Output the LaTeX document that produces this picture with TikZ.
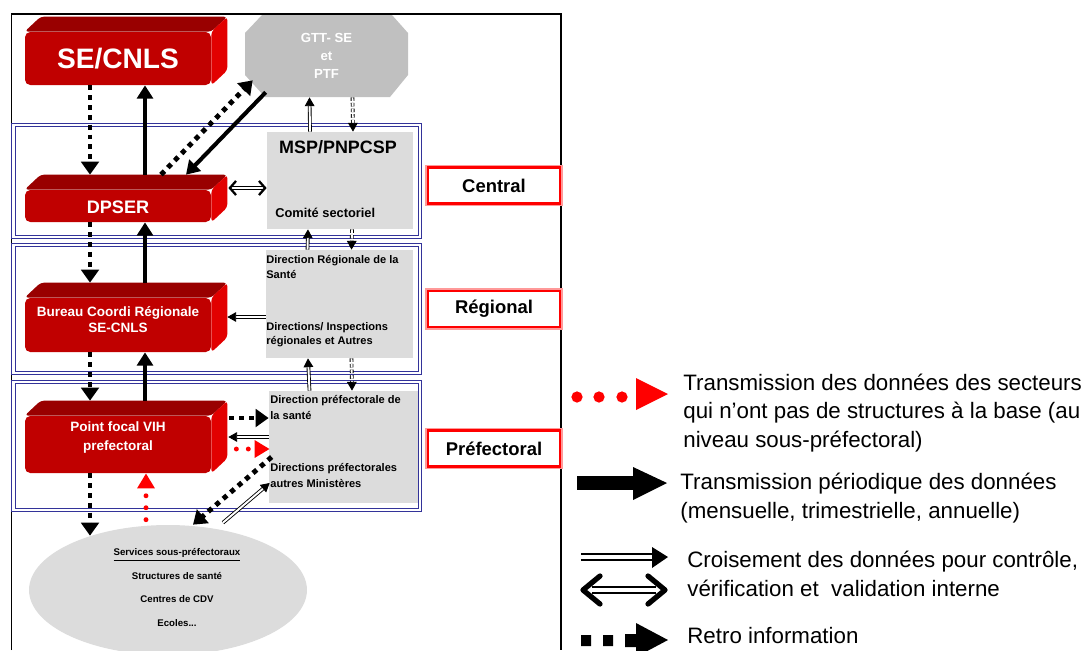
\documentclass[tikz,border=0pt]{standalone}
\usepackage{fontspec}
\setmainfont{Liberation Sans}
\usetikzlibrary{arrows.meta,shapes.geometric}

\definecolor{redfront}{RGB}{192,0,0}
\definecolor{redtop}{RGB}{153,0,0}
\definecolor{redside}{RGB}{226,0,0}
\definecolor{boxgray}{RGB}{220,220,220}
\definecolor{gttgray}{RGB}{192,192,192}
\definecolor{bandblue}{RGB}{51,51,153}

\tikzset{
  block/.style={fill=redfront, inner sep=0pt, rounded corners=3pt},
  blocktxt/.style={text=white, align=center, inner sep=0pt},
  gbox/.style 2 args={fill=boxgray, inner sep=0pt, minimum width={#1*0.02cm}, minimum height={#2*0.02cm}},
  boxtxt/.style={anchor=west, align=left, inner sep=0pt, font=\bfseries\fontsize{6.3}{8.6}\selectfont},
  band/.style={draw=bandblue, double=white, double distance=1.6pt, line width=0.5pt},
  lvl/.style={draw=red, line width=1.6pt, preaction={draw=red!40, line width=3pt}, fill=white,
    minimum width=2.64cm, minimum height=0.72cm, inner sep=0pt, font=\bfseries\fontsize{10.5}{12}\selectfont},
  retro/.style={line width=2.8pt, dash pattern=on 2.8pt off 2.8pt, -{Triangle[length=7.4pt,width=10pt]}},
  trans/.style={line width=2.3pt, -{Triangle[length=7.5pt,width=9pt]}},
  cross/.style={double, double distance=1.1pt, line width=0.5pt, -{Triangle[length=5pt,width=5.5pt]}},
  crossdash/.style={cross, dash pattern=on 2pt off 1.2pt},
  crossboth/.style={double, double distance=1.1pt, line width=0.5pt,
    {Straight Barb[length=3.5pt,width=8pt,line width=1.3pt]}-{Straight Barb[length=3.5pt,width=8pt,line width=1.3pt]}},
  redinfo/.style={red, line width=2.8pt, dash pattern=on 0pt off 6.8pt, line cap=round, -{Triangle[length=8.5pt,width=9.5pt]}},
  legtxt/.style={anchor=west, align=left, inner sep=0pt, font=\fontsize{12.7}{16.4}\selectfont},
}

% name, centre, width, height (px), font size, text, text shift
\newcommand{\redblock}[7]{%
  \node[block, minimum width={#3*0.02cm}, minimum height={#4*0.02cm}] (#1) at #2 {};
  \fill[redtop, rounded corners=2pt] (#1.north west) -- ++(16,-15) -- ([shift={(16,-15)}]#1.north east) -- (#1.north east) -- cycle;
  \fill[redside, rounded corners=2pt] (#1.north east) -- ++(16,-15) -- ([shift={(16,-15)}]#1.south east) -- (#1.south east) -- cycle;
  \coordinate (#1b) at ([shift={(0,-15)}]#1.north);
  \node[blocktxt, font={\bfseries#5}] (#1txt) at ([shift={(0,#7)}]#1) {#6};
}

\begin{document}
\begin{tikzpicture}[x=0.02cm, y=-0.02cm]
  \useasboundingbox (0,0) rectangle (1088,650);

  % frame and levels
  \draw[line width=1.1pt] (11.5,650) -- (11.5,14) -- (561,14) -- (561,650);
  \foreach \ya/\yb in {125/237, 245/373, 382/510}
    \draw[band] (13.5,\ya) rectangle (420,\yb);

  % GTT
  \fill[gttgray] (245,33) -- (262,15) -- (392,15) -- (408,33) -- (408,75) -- (390,97) -- (265,97) -- (245,75) -- cycle;
  \node[minimum width=3.26cm, minimum height=1.64cm, inner sep=0pt, text=white, align=center,
    font=\bfseries\fontsize{7.5}{10.2}\selectfont] (gtt) at (326.5,56) {GTT- SE\\et\\PTF};

  % red blocks
  \redblock{secnls}{(118,58.5)}{186}{53}{\fontsize{16}{18}\selectfont}{SE/CNLS}{0}
  \redblock{dpser}{(118,206)}{186}{32}{\fontsize{10.3}{12}\selectfont}{DPSER}{1}
  \redblock{bureau}{(118,325)}{186}{54}{\fontsize{7.7}{9.2}\selectfont}{Bureau Coordi Régionale\\SE-CNLS}{-5}
  \redblock{focal}{(118,444.5)}{186}{57}{\fontsize{7.7}{10.6}\selectfont}{Point focal VIH\\prefectoral}{-7}

  % grey boxes
  \node[gbox={146}{97}] (msp) at (340,180.5) {};
  \node[font=\bfseries\fontsize{10.2}{12}\selectfont, inner sep=0pt] (msptitle) at (338,147) {MSP/PNPCSP};
  \node[boxtxt, font=\bfseries\fontsize{7.3}{9}\selectfont] (comite) at (275,213) {Comité sectoriel};

  \node[gbox={147}{108}] (regsante) at (339.5,304) {};
  \node[boxtxt, font=\bfseries\fontsize{6.3}{9}\selectfont] (regtxta) at (266,267) {Direction Régionale de la\\Santé};
  \node[boxtxt, font=\bfseries\fontsize{6.3}{8}\selectfont] (regtxtb) at (266,335) {Directions/ Inspections\\régionales et Autres};

  \node[gbox={149}{112}] (prefsante) at (343.5,447) {};
  \node[boxtxt] (preftxta) at (270,407.5) {Direction préfectorale de\\la santé};
  \node[boxtxt] (preftxtb) at (270,475.5) {Directions préfectorales\\autres Ministères};

  \node[ellipse, fill=boxgray, minimum width=5.56cm, minimum height=2.6cm, inner sep=0pt] (services) at (168,590) {};
  \node[align=center, inner sep=0pt, font=\bfseries\fontsize{5.5}{13.4}\selectfont] (servtxt) at (177,587.5)
    {\underline{Services sous-préfectoraux}\\Structures de santé\\Centres de CDV\\Ecoles...};

  % level labels
  \node[lvl] (lvlcentral) at (494,185.5) {Central};
  \node[lvl] (lvlregional) at (494,309) {Régional};
  \node[lvl] (lvlpref) at (494,448.5) {Préfectoral};

  % central
  \draw[retro] ([shift={(-28,0)}]secnls.south) -- ([shift={(-28,0)}]dpserb);
  \draw[trans] ([shift={(27,0)}]dpserb) -- ([shift={(27,0)}]secnls.south);
  \draw[retro] ([shift={(43,0)}]dpserb) -- ([shift={(8,-17)}]gtt.south west);
  \draw[trans] ([shift={(21,-5)}]gtt.south west) -- ([shift={(68,0)}]dpserb);
  \draw[cross] ([shift={(-30,0)}]msp.north) -- ([shift={(-17,0)}]gtt.south);
  \draw[crossdash] ([shift={(26,0)}]gtt.south) -- ([shift={(13,0)}]msp.north);
  \draw[crossboth] ([shift={(17,-18)}]dpser.east) -- ([shift={(0,7.5)}]msp.west);

  % regional
  \draw[retro] ([shift={(-28,0)}]dpser.south) -- ([shift={(-28,0)}]bureaub);
  \draw[trans] ([shift={(27,0)}]bureaub) -- ([shift={(27,0)}]dpser.south);
  \draw[cross] ([shift={(-32,0)}]regsante.north) -- ([shift={(-32,0)}]msp.south);
  \draw[crossdash] ([shift={(12,0)}]msp.south) -- ([shift={(12,0)}]regsante.north);
  \draw[cross] ([shift={(0,13)}]regsante.west) -- ([shift={(16,-8)}]bureau.east);

  % prefectoral
  \draw[retro] ([shift={(-28,0)}]bureau.south) -- ([shift={(-28,0)}]focalb);
  \draw[trans] ([shift={(27,0)}]focalb) -- ([shift={(27,0)}]bureau.south);
  \draw[cross] ([shift={(-34,0)}]prefsante.north) -- ([shift={(-31.5,0)}]regsante.south);
  \draw[crossdash] ([shift={(12,0)}]regsante.south) -- ([shift={(8.5,0)}]prefsante.north);
  \draw[retro] ([shift={(18,-26.5)}]focal.east) -- ([shift={(0,-29)}]prefsante.west);
  \draw[cross] ([shift={(0,-10)}]prefsante.west) -- ([shift={(17,-7.5)}]focal.east);
  \draw[redinfo] ([shift={(25,4.5)}]focal.east) -- ([shift={(1,2)}]prefsante.west);
  \draw[retro] ([shift={(3,10)}]prefsante.west) -- ([shift={(25,0)}]services.north);
  \draw[cross] ([shift={(55,-2)}]services.north) -- ([shift={(1,36)}]prefsante.west);
  \draw[retro] ([shift={(-28,0)}]focal.south) -- ([shift={(-78,11)}]services.north);
  \draw[redinfo] ([shift={(-22,-5)}]services.north) -- ([shift={(28,0)}]focal.south);

  % legend
  \foreach \x in {577,599,622}
    \fill[red] (\x,397) circle[radius=3.2pt];
  \fill[red] (636,378) -- (668,394) -- (636,410) -- cycle;
  \node[legtxt] (leg1) at (683,413) {Transmission des données des secteurs\\qui n’ont pas de structures à la base (au\\niveau sous-préfectoral)};

  \fill (577,476) rectangle (634,490);
  \fill (633,467) -- (667,483) -- (633,500) -- cycle;
  \node[legtxt] (leg2) at (680,498) {Transmission périodique des données\\(mensuelle, trimestrielle, annuelle)};

  \draw[line width=0.6pt] (581,554) -- (655,554) (581,560) -- (655,560);
  \fill (652,547) -- (668,557) -- (652,568) -- cycle;
  \draw[line width=0.6pt] (592,587) -- (656,587) (592,593) -- (656,593);
  \draw[line width=3pt, line cap=round, line join=round] (600,576) -- (583,590) -- (600,604) (648,576) -- (665,590) -- (648,604);
  \node[legtxt] (leg3) at (687,574) {Croisement des données pour contrôle,\\vérification et\ \ validation interne};

  \fill (581,635) rectangle (591,646) (603,635) rectangle (613,646) (625,634) rectangle (637,647);
  \fill (636,623) -- (668,640) -- (636,657) -- cycle;
  \node[legtxt] (leg4) at (687,636) {Retro information};
\end{tikzpicture}
\end{document}
